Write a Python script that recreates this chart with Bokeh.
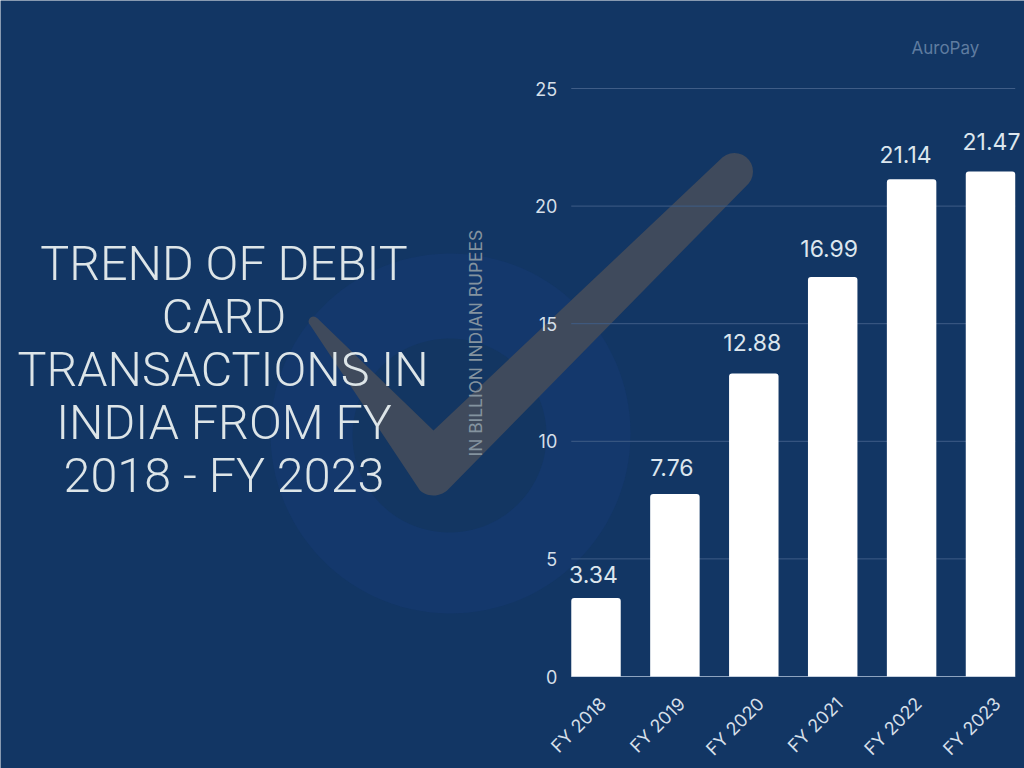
import numpy as np
from bokeh.plotting import figure
from bokeh.models import (ColumnDataSource, Range1d, Label, LabelSet, PolyAnnotation, FixedTicker)
from bokeh.core.properties import value
from bokeh.embed import file_html
from bokeh.resources import INLINE

categories = ["FY 2018", "FY 2019", "FY 2020", "FY 2021", "FY 2022", "FY 2023"]
values = [3.34, 7.76, 12.88, 16.99, 21.14, 21.47]
value_labels = ["3.34", "7.76", "12.88", "16.99", "21.14", "21.47"]
y_ticks = [0, 5, 10, 15, 20, 25]
title_lines = ["TREND OF DEBIT", "CARD", "TRANSACTIONS  IN", "INDIA FROM FY", "2018 - FY 2023"]
y_axis_title = "IN BILLION INDIAN RUPEES"
brand = "AuroPay"

BG = "#123664"
W, H = 1024, 768
STEP = 78.9        # px per category
PX_X0 = 595.5      # px of first category
PX_Y0, PX_Y25 = 676, 88
PXY = (PX_Y0 - PX_Y25) / 25
BAR = 0.627
label_dx = [-2.5, -3, -1.5, -3.5, -6, 1]
label_dy = [15, 18, 23, 20, 16, 22]
title_x = [223.5, 223.5, 228.5, 223.5, 223.5]

positions = list(range(len(categories)))


def sy(y):
    return H - y


p = figure(width=W, height=H, output_backend="svg", toolbar_location=None,
           x_range=Range1d(-PX_X0 / STEP, (W - PX_X0) / STEP),
           y_range=Range1d(-(H - PX_Y0) / PXY, 25 + PX_Y25 / PXY),
           min_border=0)
p.background_fill_color = BG
p.border_fill_color = BG
p.outline_line_color = None
p.grid.grid_line_color = None


def ring(cx, cy, r):
    t = np.linspace(0, 2 * np.pi, 120)
    return cx + r * np.cos(t), cy + r * np.sin(t)


def arc(cx, cy, r, a0, a1, n=14):
    t = np.radians(np.linspace(a0, a1, n))
    return cx + r * np.cos(t), cy + r * np.sin(t)


def shape(xs, ys, color):
    p.add_layout(PolyAnnotation(xs=list(np.asarray(xs)), ys=list(sy(np.asarray(ys))),
                                xs_units="screen", ys_units="screen", fill_color=color,
                                fill_alpha=1, line_color=None, level="image"))


x, y = ring(450, 433, 180)
shape(x, y, "#14386c")
x, y = ring(449, 435, 97)
shape(x, y, "#133662")

tip = arc(313, 321, 5, 130, 320, 8)
notch = (np.array([433.0]), np.array([430.0]))
top = arc(734, 171, 18.5, -130, 40)
bottom = arc(433, 474, 21, 45, 130)
cx = np.concatenate([tip[0], notch[0], top[0], bottom[0]])
cy = np.concatenate([tip[1], notch[1], top[1], bottom[1]])
shape(cx, cy, "#3f4a5c")

# gridlines span only the bar area
left_edge = -BAR / 2
right_edge = positions[-1] + BAR / 2
p.segment(x0=[left_edge] * len(y_ticks), x1=[right_edge] * len(y_ticks), y0=y_ticks, y1=y_ticks,
          line_color=["#8ea4c0"] + ["#3f5d87"] * (len(y_ticks) - 1), line_width=1)

src = ColumnDataSource(dict(x=positions, top=values, label=value_labels, dx=label_dx, dy=label_dy))
p.vbar(x="x", top="top", width=BAR, bottom=0, source=src, fill_color="white",
       line_color=None, border_radius=(3, 3, 0, 0))

p.add_layout(LabelSet(x="x", y="top", text="label", source=src, x_offset="dx", y_offset="dy",
                      text_align="center", text_baseline="bottom", text_color="#dce6ee",
                      text_font=value("Inter"), text_font_size="23px"))

tick_shift = 0.086
x_tick_pos = [i + tick_shift for i in positions]
p.xaxis.fixed_location = 0
p.xaxis.ticker = FixedTicker(ticks=x_tick_pos)
p.xaxis.major_label_overrides = dict(zip(x_tick_pos, categories))
p.xaxis.major_label_orientation = np.pi / 4
p.xaxis.major_label_text_font = "Inter"
p.xaxis.major_label_text_font_size = "18px"
p.xaxis.major_label_text_color = "#d5dfe8"
p.xaxis.axis_line_color = None
p.xaxis.major_tick_line_color = None
p.xaxis.minor_tick_line_color = None
p.xaxis.major_label_standoff = 18

p.yaxis.fixed_location = left_edge
p.yaxis.ticker = FixedTicker(ticks=y_ticks)
p.yaxis.major_label_text_font = "Inter"
p.yaxis.major_label_text_font_size = "18px"
p.yaxis.major_label_text_color = "#d5dfe8"
p.yaxis.axis_line_color = None
p.yaxis.major_tick_line_color = None
p.yaxis.minor_tick_line_color = None
p.yaxis.major_label_standoff = 8

for i, line in enumerate(title_lines):
    p.add_layout(Label(x=title_x[i], y=sy(263 + 53 * i), x_units="screen", y_units="screen", text=line,
                       text_align="center", text_baseline="alphabetic", text_color="#dde5e8",
                       text_font="Roboto Light", text_font_size="48.5px"))

p.add_layout(Label(x=475, y=sy(456), x_units="screen", y_units="screen", text=y_axis_title,
                   angle=np.pi / 2, text_align="left", text_baseline="alphabetic",
                   text_color="#84939f", text_font="Inter", text_font_size="17.4px"))

p.add_layout(Label(x=911, y=sy(47), x_units="screen", y_units="screen", text=brand,
                   text_align="left", text_baseline="alphabetic", text_color="#5f7ca0",
                   text_font="Inter", text_font_size="17px"))

open("out.html", "w").write(file_html(p, INLINE))
